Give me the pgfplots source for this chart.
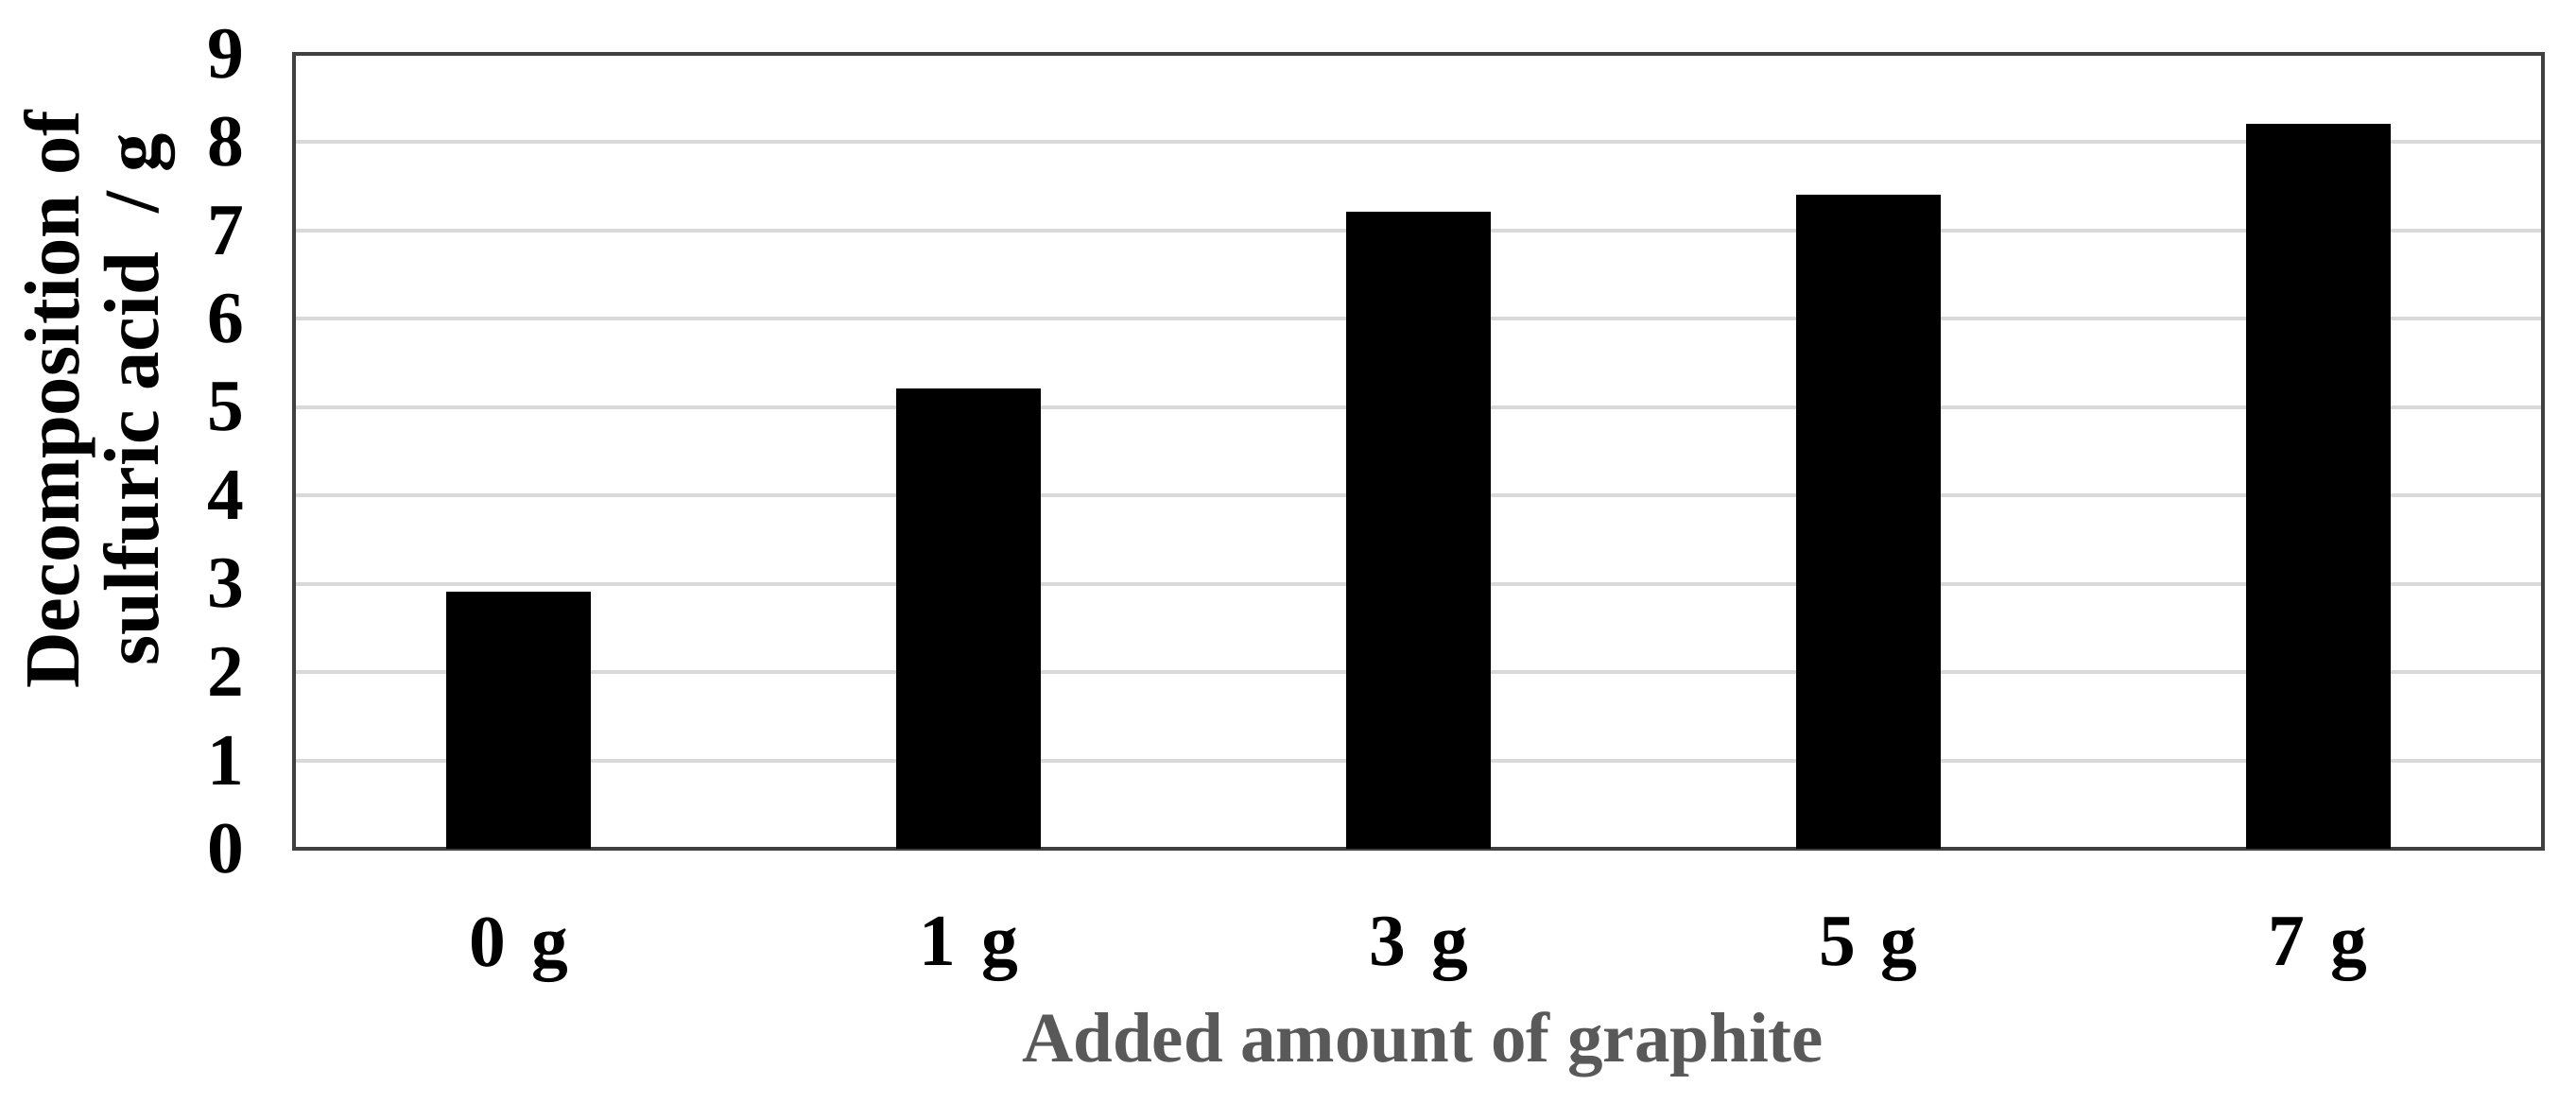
\documentclass[border=0pt]{standalone}
\usepackage{fontspec}
\setmainfont{Liberation Serif}
\usepackage{pgfplots}
\pgfplotsset{compat=1.18}
\usetikzlibrary{calc}
\definecolor{axisgray}{HTML}{404040}
\definecolor{gridgray}{HTML}{D9D9D9}
\definecolor{labelgray}{HTML}{595959}
\begin{document}
\begin{tikzpicture}
\begin{axis}[
  scale only axis,
  width=475.8pt, height=168.2pt,
  xmin=-0.5, xmax=4.5,
  ymin=0, ymax=9,
  ytick={0,1,...,9},
  xtick={0,1,2,3,4},
  xticklabels={0\hspace{0.35em}g,1\hspace{0.35em}g,3\hspace{0.35em}g,5\hspace{0.35em}g,7\hspace{0.35em}g},
  ymajorgrids,
  grid style={gridgray, line width=0.8pt},
  axis line style={axisgray, line width=0.9pt},
  major tick length=0pt,
  /pgf/number format/assume math mode=true,
  ticklabel style={font=\fontsize{15.5}{17}\selectfont\bfseries},
  yticklabel style={xshift=-7pt},
  xticklabel style={yshift=-11pt},
  xlabel={Added amount of graphite},
  xlabel style={font=\fontsize{15}{18}\selectfont\bfseries, text=labelgray,
    at={(axis description cs:0.502,0)}, anchor=center, yshift=-41.5pt},
  ylabel={Decomposition of\\sulfuric acid~~/ g},
  ylabel style={font=\fontsize{16.5}{16.8}\selectfont\bfseries, align=center,
    at={(axis description cs:-0.0865,0.565)}, anchor=center},
]
\addplot[ybar, bar width=30.2pt, fill=black, draw=black] coordinates {
  (0,2.9) (1,5.2) (2,7.2) (3,7.4) (4,8.2)
};
\end{axis}
\pgfresetboundingbox
\path ($(current axis.south west)+(-62.2pt,-53.8pt)$) rectangle ($(current axis.north east)+(7pt,11.4pt)$);
\end{tikzpicture}
\end{document}
